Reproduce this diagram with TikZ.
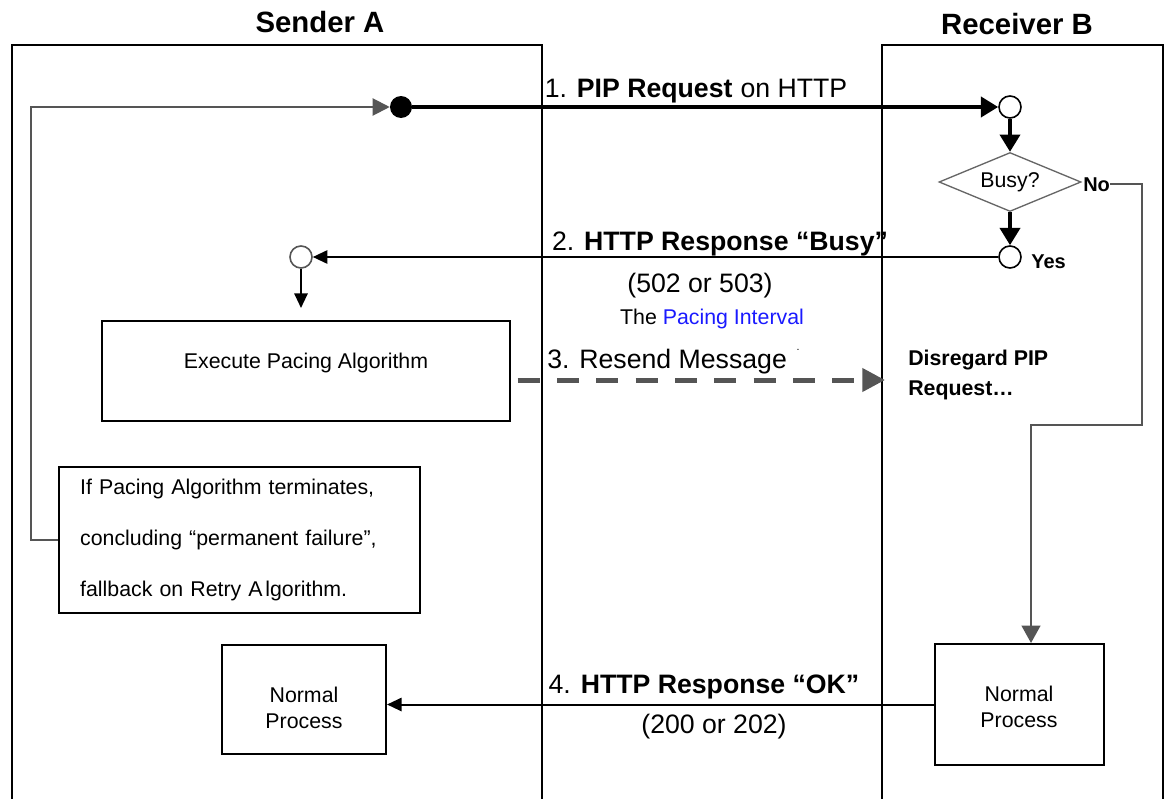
\documentclass[tikz,border=0pt]{standalone}
\usepackage{fontspec}
\setmainfont{Liberation Sans}
\usetikzlibrary{arrows.meta,shapes.geometric,fit}
\definecolor{lgray}{HTML}{555555}
\definecolor{dgray}{HTML}{666666}
\definecolor{pblue}{HTML}{1A1AFF}
\tikzset{
  lane/.style={line width=1.5pt},
  box/.style={draw, line width=1.5pt, inner sep=0pt, align=center, font=\fontsize{16}{20}\selectfont},
  boxtext/.style={align=center, inner sep=0pt, font=\fontsize{16}{19.5}\selectfont},
  titletext/.style={font=\fontsize{22}{26}\selectfont\bfseries},
  msg/.style={font=\fontsize{20}{24}\selectfont},
  smalltext/.style={font=\fontsize{16}{19}\selectfont},
  yn/.style={font=\fontsize{15}{18}\selectfont\bfseries, inner sep=0pt},
  dotnode/.style={circle, inner sep=0pt, minimum size=16.5pt, line width=1.2pt, draw, fill=white},
  bigarrow/.style={line width=3pt, -{Triangle[length=13pt,width=15pt]}},
  thinarrow/.style={line width=1.5pt, -{Triangle[length=11pt,width=10pt]}},
  grayline/.style={draw=lgray, line width=1.5pt},
  dasharrow/.style={draw=lgray, line width=3.75pt, dash pattern=on 16.5pt off 13pt,
    -{Triangle[length=17pt,width=17pt,fill=lgray]}},
}
\begin{document}
\begin{tikzpicture}[x=0.75pt,y=-0.75pt]
\useasboundingbox (0,0) rectangle (1170,799);

% swimlanes
\draw[lane] (12,806) -- (12,45) -- (542,45) -- (542,806);
\draw[lane] (882,806) -- (882,45) -- (1163,45) -- (1163,806);
\node[titletext, anchor=base] (tA) at (320,33) {Sender A};
\node[titletext, anchor=base] (tB) at (1017,35) {Receiver B};

% nodes
\node[circle, fill=black, inner sep=0pt, minimum size=16.5pt] (sA) at (401,107) {};
\node[dotnode, draw=black] (r1) at (1010,107) {};
\node[diamond, draw=dgray, line width=1pt, aspect=2.4, minimum width=106.5pt,
      minimum height=44.25pt, inner sep=0pt, smalltext] (busy) at (1010,182) {Busy?};
\node[dotnode, draw=black] (r2) at (1010,257) {};
\node[dotnode, draw=lgray] (cA) at (301,257) {};
\node[box, fit={(102,321)(510,421)}] (exec) {Execute Pacing Algorithm};
\node[box, minimum width=270.75pt, minimum height=109.5pt, text width=239pt, align=left,
      font=\fontsize{16}{38.25}\selectfont] (note) at (239.5,540)
  {If Pacing Algorithm terminates,\\concluding “permanent failure”,\\fallback on Retry A\kern2pt lgorithm.};
\node[box, fit={(222,645)(386,754)}] (npA) {};
\node[boxtext, anchor=base] (npAt) at (304,728) {Normal\\Process};
\node[box, fit={(935,644)(1104,765)}] (npB) {};
\node[boxtext, anchor=base] (npBt) at (1019,727) {Normal\\Process};

\node[yn, anchor=base west] (no) at (1083,191) {No};
\node[yn, anchor=base west] (yes) at (1031,268) {Yes};

% labels
\node[msg, anchor=base] (m1) at (696,98) {1. \textbf{PIP Request}\hspace{0.3em}on HTTP};
\node[msg, anchor=base] (m2) at (720,250) {2. \textbf{HTTP Response “Busy”}};
\node[msg, anchor=base] (m2b) at (700,292) {(502 or 503)};
\node[smalltext, anchor=base] (pace) at (712,324) {The {\color{pblue}Pacing Interval}};
\node[msg, anchor=base west, inner sep=0pt] (m3) at (547,368) {3. Resend Message};
\node[font=\fontsize{8}{8}\selectfont, anchor=base, inner sep=0pt] (m3dot) at (798,350) {.};
\node[smalltext, font=\fontsize{16}{22.5}\selectfont\bfseries, anchor=north west,
      align=left, inner sep=0pt] (dis) at (908,350) {Disregard PIP\\Request…};
\node[msg, anchor=base] (m4) at (704,693) {4. \textbf{HTTP Response “OK”}};
\node[msg, anchor=base] (m4b) at (714,733) {(200 or 202)};

% connectors
\coordinate (l1) at (31,107);
\draw[grayline, -{Triangle[length=12.75pt,width=12.75pt,fill=lgray]}]
  (note.west) -| (l1) -- (sA.west);
\draw[bigarrow] (sA) -- (r1);
\draw[bigarrow] (r1) -- (busy.north);
\draw[bigarrow] (busy.south) -- (r2);
\draw[thinarrow] (r2) -- (cA);
\draw[thinarrow, shorten >=9pt] (cA) -- (exec.north -| cA);
\coordinate (d2) at (885,380);
\draw[dasharrow, shorten <=5pt] (exec.east |- d2) -- (d2);
\coordinate (k1) at (1142,425);
\coordinate (k2) at (1031,425);
\draw[grayline, -{Triangle[length=13pt,width=14pt,fill=lgray]}]
  (no.east) -| (k1) -- (k2) -- (k2 |- npB.north);
\draw[thinarrow] (npB.west) -- (npB.west -| npA.east);
\end{tikzpicture}
\end{document}
